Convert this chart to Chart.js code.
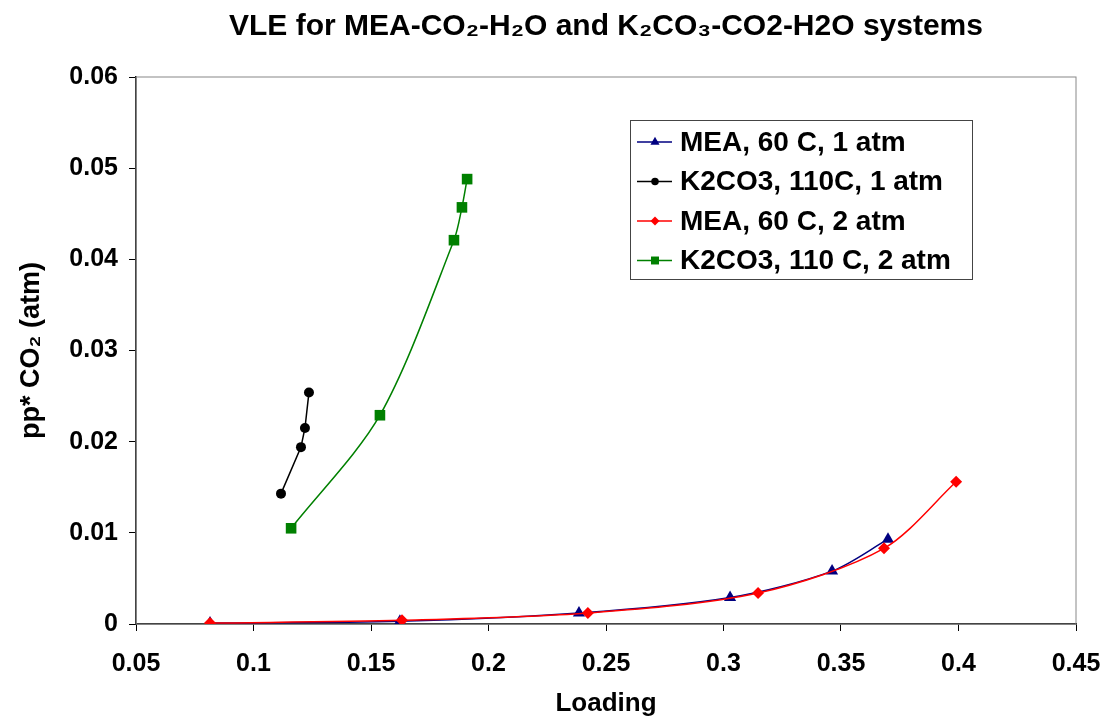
<!DOCTYPE html>
<html>
<head>
<meta charset="utf-8">
<script src="https://cdn.jsdelivr.net/npm/chart.js@4/dist/chart.umd.min.js"></script>
<style>
  html, body { margin: 0; padding: 0; background: #fff; }
  #wrap { width: 1103px; height: 717px; }
</style>
</head>
<body>
<div id="wrap"><canvas id="chartVle" width="1103" height="717"></canvas></div>
<script>
// Data (Loading, pp* CO2)
const seriesLabels = ['MEA, 60 C, 1 atm', 'K2CO3, 110C, 1 atm', 'MEA, 60 C, 2 atm', 'K2CO3, 110 C, 2 atm'];

const meaLoad1 = [0.0815, 0.1623, 0.2385, 0.3028, 0.3462, 0.370];
const meaPp1   = [0.0001, 0.0003, 0.0012, 0.0029, 0.0058, 0.0093];

const k2Load1 = [0.1117, 0.1202, 0.1219, 0.1236];
const k2Pp1   = [0.0143, 0.0194, 0.0215, 0.0254];

const meaLoad2 = [0.0815, 0.1632, 0.2423, 0.3147, 0.3683, 0.399];
const meaPp2   = [0.0001, 0.0004, 0.0012, 0.0034, 0.0083, 0.0156];

const k2Load2 = [0.116, 0.1538, 0.1853, 0.1887, 0.1909];
const k2Pp2   = [0.0105, 0.0229, 0.0421, 0.0457, 0.0488];

const xTicks = [0.05, 0.1, 0.15, 0.2, 0.25, 0.3, 0.35, 0.4, 0.45];
const yTicks = [0, 0.01, 0.02, 0.03, 0.04, 0.05, 0.06];

const toPoints = (xs, ys) => xs.map((x, i) => ({ x: x, y: ys[i] }));
const fmt = v => String(+v.toFixed(3));

// Legenda di dalam area plot (seperti Excel)
const boxLegend = {
    id: 'boxLegend',
    afterDraw(chart) {
        const ctx = chart.ctx;
        const x0 = 630, y0 = 120, w = 342, h = 159;
        ctx.save();
        ctx.fillStyle = '#fff';
        ctx.fillRect(x0, y0, w, h);
        ctx.strokeStyle = '#444';
        ctx.lineWidth = 1;
        ctx.strokeRect(x0 + 0.5, y0 + 0.5, w, h);
        chart.data.datasets.forEach((ds, i) => {
            const cy = 142 + i * 39.5;
            ctx.strokeStyle = ds.borderColor;
            ctx.lineWidth = 1.5;
            ctx.beginPath();
            ctx.moveTo(637, cy);
            ctx.lineTo(672, cy);
            ctx.stroke();
            ctx.fillStyle = ds.borderColor;
            Chart.helpers.drawPoint(ctx, { pointStyle: ds.pointStyle, radius: ds.pointRadius * 0.75, borderWidth: 0 }, 655, cy);
            ctx.fillStyle = '#000';
            ctx.font = 'bold 28px "Liberation Sans", Arial, sans-serif';
            ctx.textBaseline = 'middle';
            ctx.textAlign = 'left';
            ctx.fillText(ds.label, 680, cy + 1);
        });
        ctx.restore();
    }
};

// Bingkai abu-abu di sekeliling area plot
const plotFrame = {
    id: 'plotFrame',
    beforeDatasetsDraw(chart) {
        const a = chart.chartArea;
        const ctx = chart.ctx;
        ctx.save();
        ctx.strokeStyle = '#888';
        ctx.lineWidth = 1;
        ctx.strokeRect(a.left, a.top, a.right - a.left, a.bottom - a.top);
        ctx.restore();
    }
};

const mkSet = (label, xs, ys, color, style, radius, tension, order) => ({
    label: label,
    data: toPoints(xs, ys),
    showLine: true,
    borderColor: color,
    backgroundColor: color,
    borderWidth: 1.5,
    pointStyle: style,
    pointRadius: radius,
    pointBorderWidth: 0,
    pointHoverRadius: radius,
    tension: tension,
    order: order
});

new Chart(document.getElementById('chartVle'), {
    type: 'scatter',
    data: {
        datasets: [
            mkSet(seriesLabels[0], meaLoad1, meaPp1, '#000080', 'triangle', 7, 0.3, 1),
            mkSet(seriesLabels[1], k2Load1, k2Pp1, '#000000', 'circle', 5, 0, 2),
            mkSet(seriesLabels[2], meaLoad2, meaPp2, '#ff0000', 'rectRot', 6, 0.3, 0),
            mkSet(seriesLabels[3], k2Load2, k2Pp2, '#008000', 'rect', 7.5, 0.3, 3)
        ]
    },
    options: {
        responsive: false,
        animation: false,
        layout: { padding: { left: 0, right: 27, top: 0, bottom: 0 } },
        plugins: {
            legend: { display: false },
            tooltip: { enabled: false },
            title: {
                display: true,
                fullSize: false,
                text: 'VLE for MEA-CO\u2082-H\u2082O and K\u2082CO\u2083-CO2-H2O systems',
                color: '#000',
                font: { family: '"Liberation Sans", Arial, sans-serif', size: 30, weight: 'bold' },
                padding: { top: 9, bottom: 32 }
            }
        },
        scales: {
            x: {
                type: 'linear',
                min: 0.05,
                max: 0.45,
                afterBuildTicks: s => { s.ticks = xTicks.map(v => ({ value: v })); },
                afterFit: s => { s.height = 93; s.paddingLeft = 0; s.paddingRight = 0; },
                ticks: {
                    color: '#000',
                    padding: 18,
                    maxRotation: 0,
                    font: { family: '"Liberation Sans", Arial, sans-serif', size: 25, weight: 'bold' },
                    callback: v => fmt(v)
                },
                grid: { drawOnChartArea: false, drawTicks: true, tickLength: 7, color: '#000' },
                border: { color: '#000', width: 1.5 },
                title: {
                    display: true,
                    text: 'Loading',
                    color: '#000',
                    padding: { top: 0, bottom: -2 },
                    font: { family: '"Liberation Sans", Arial, sans-serif', size: 26, weight: 'bold' }
                }
            },
            y: {
                type: 'linear',
                min: 0,
                max: 0.06,
                afterBuildTicks: s => { s.ticks = yTicks.map(v => ({ value: v })); },
                afterFit: s => { s.width = 136; },
                ticks: {
                    color: '#000',
                    padding: 11,
                    font: { family: '"Liberation Sans", Arial, sans-serif', size: 25, weight: 'bold' },
                    callback: v => fmt(v)
                },
                grid: { drawOnChartArea: false, drawTicks: true, tickLength: 7, color: '#000' },
                border: { color: '#000', width: 1.5 },
                title: {
                    display: true,
                    text: 'pp* CO\u2082 (atm)',
                    color: '#000',
                    padding: { top: 15, bottom: 0 },
                    font: { family: '"Liberation Sans", Arial, sans-serif', size: 27, weight: 'bold' }
                }
            }
        }
    },
    plugins: [plotFrame, boxLegend]
});
</script>
</body>
</html>
